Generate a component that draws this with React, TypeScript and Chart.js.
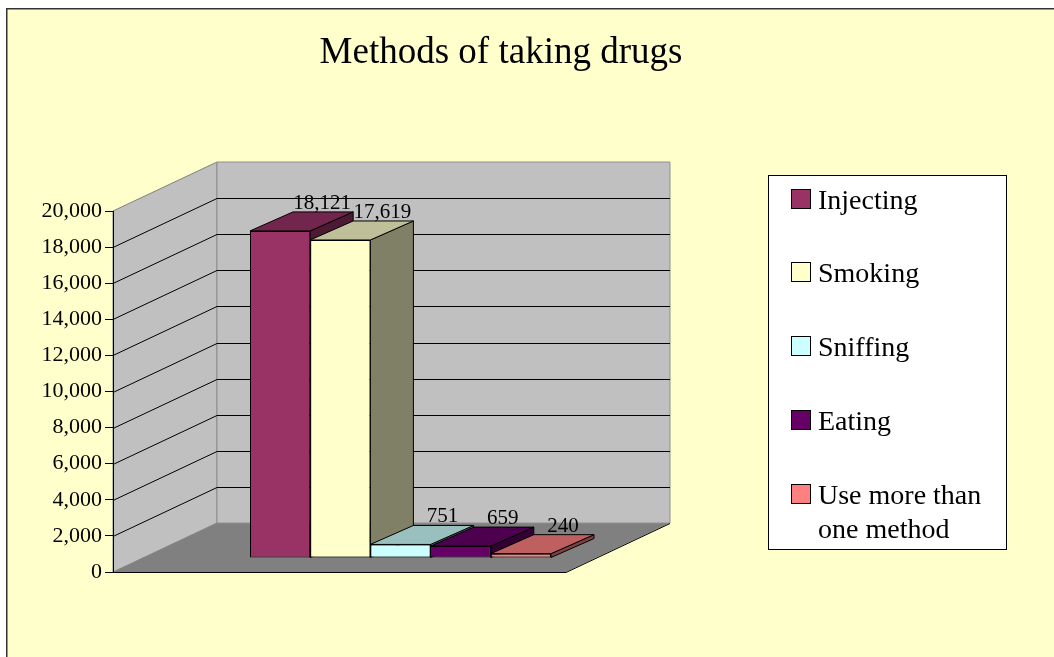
import { useEffect, useRef } from "react";
import { Chart, registerables } from "chart.js";

Chart.register(...registerables);

// Number of drug users by method of taking drugs
const methods = ["Injecting", "Smoking", "Sniffing", "Eating", "Use more than one method"];
const users = [18121, 17619, 751, 659, 240];
const methodColors = ["#993366", "#FFFFCC", "#CCFFFF", "#660066", "#FF8080"];
const axisMin = 0;
const axisMax = 20000;
const axisStep = 2000;
const titleText = "Methods of taking drugs";

const SERIF = "'Liberation Serif', 'Times New Roman', serif";

// Oblique 3-D box: depth offset of the back wall, floor width,
// offset of the bar row inside the box and the depth of each bar.
const WALL_DEPTH = { x: 104, y: -49 };
const FLOOR_WIDTH = 453;
const BAR_SHIFT = { x: 30, y: -14 };
const BAR_DEPTH = { x: 43, y: -19 };

const fmt = (v: number) => Number(v).toLocaleString("en-US");

function shade(hex: string, f: number): string {
  const n = parseInt(hex.slice(1), 16);
  const r = Math.round(((n >> 16) & 255) * f);
  const g = Math.round(((n >> 8) & 255) * f);
  const b = Math.round((n & 255) * f);
  return `rgb(${r},${g},${b})`;
}

function poly(
  ctx: CanvasRenderingContext2D,
  pts: number[][],
  fill: string | null,
  stroke: string | null
) {
  ctx.beginPath();
  ctx.moveTo(pts[0][0], pts[0][1]);
  for (let i = 1; i < pts.length; i++) ctx.lineTo(pts[i][0], pts[i][1]);
  ctx.closePath();
  if (fill) {
    ctx.fillStyle = fill;
    ctx.fill();
  }
  if (stroke) {
    ctx.strokeStyle = stroke;
    ctx.lineWidth = 1;
    ctx.stroke();
  }
}

function wrapWords(ctx: CanvasRenderingContext2D, text: string, maxWidth: number): string[] {
  const words = text.split(" ");
  const lines: string[] = [];
  let cur = "";
  for (const w of words) {
    const test = cur ? cur + " " + w : w;
    if (cur && ctx.measureText(test).width > maxWidth) {
      lines.push(cur);
      cur = w;
    } else {
      cur = test;
    }
  }
  if (cur) lines.push(cur);
  return lines;
}

const scenePlugin = {
  id: "scene3d",
  beforeDraw(chart: any) {
    const { ctx, chartArea, scales } = chart;
    const y = scales.y;
    ctx.save();
    // page and chart frame
    ctx.fillStyle = "#FFFFFF";
    ctx.fillRect(0, 0, chart.width, chart.height);
    ctx.fillStyle = "#FFFFCC";
    ctx.fillRect(7, 9, chart.width, chart.height);
    ctx.strokeStyle = "#333333";
    ctx.lineWidth = 1.5;
    ctx.strokeRect(6.75, 8.75, chart.width + 20, chart.height + 20);

    // title
    ctx.fillStyle = "#000000";
    ctx.font = `37px ${SERIF}`;
    ctx.textAlign = "center";
    ctx.textBaseline = "alphabetic";
    ctx.fillText(titleText, 501, 63);

    // walls and floor
    const L = chartArea.left;
    const B = y.getPixelForValue(axisMin);
    const T = y.getPixelForValue(axisMax);
    const R = L + FLOOR_WIDTH;
    const dx = WALL_DEPTH.x;
    const dy = WALL_DEPTH.y;
    poly(ctx, [[L, B], [R, B], [R + dx, B + dy], [L + dx, B + dy]], "#808080", null);
    poly(ctx, [[L, B], [L, T], [L + dx, T + dy], [L + dx, B + dy]], "#C0C0C0", "#808080");
    poly(ctx, [[L + dx, B + dy], [L + dx, T + dy], [R + dx, T + dy], [R + dx, B + dy]], "#C0C0C0", "#909090");

    // gridlines running across the side wall and the back wall
    ctx.strokeStyle = "#000000";
    ctx.lineWidth = 1;
    for (const t of y.ticks) {
      if (t.value <= axisMin || t.value >= axisMax) continue;
      const py = Math.round(y.getPixelForValue(t.value)) + 0.5;
      ctx.beginPath();
      ctx.moveTo(L, py);
      ctx.lineTo(L + dx, py + dy);
      ctx.lineTo(R + dx, py + dy);
      ctx.stroke();
    }
    // floor front and right edges
    ctx.beginPath();
    ctx.moveTo(L, Math.round(B) + 0.5);
    ctx.lineTo(R, Math.round(B) + 0.5);
    ctx.lineTo(R + dx, Math.round(B) + 0.5 + dy);
    ctx.stroke();
    ctx.restore();
  },
  beforeDatasetsDraw(chart: any) {
    const ctx = chart.ctx;
    ctx.save();
    ctx.lineJoin = "miter";
    // top and side faces, painted left to right
    chart.data.datasets.forEach((ds: any, i: number) => {
      const el = chart.getDatasetMeta(i).data[0];
      if (!el) return;
      const p = el.getProps(["x", "y", "base", "width"], true);
      const left = p.x - p.width / 2 + BAR_SHIFT.x;
      const right = p.x + p.width / 2 + BAR_SHIFT.x;
      const top = p.y + BAR_SHIFT.y;
      const bottom = p.base + BAR_SHIFT.y;
      const ddx = BAR_DEPTH.x;
      const ddy = BAR_DEPTH.y;
      poly(ctx, [[right, top], [right + ddx, top + ddy], [right + ddx, bottom + ddy], [right, bottom]], shade(ds.backgroundColor, 0.5), "#000000");
      poly(ctx, [[left, top], [right, top], [right + ddx, top + ddy], [left + ddx, top + ddy]], shade(ds.backgroundColor, 0.75), "#000000");
    });
    ctx.restore();
    // front faces are drawn by the bar controller in the bar row's plane
    ctx.save();
    ctx.translate(BAR_SHIFT.x, BAR_SHIFT.y);
  },
  afterDatasetsDraw(chart: any) {
    const ctx = chart.ctx;
    ctx.restore();
    ctx.save();
    ctx.fillStyle = "#000000";
    ctx.font = `21px ${SERIF}`;
    ctx.textAlign = "center";
    ctx.textBaseline = "alphabetic";
    chart.data.datasets.forEach((ds: any, i: number) => {
      const el = chart.getDatasetMeta(i).data[0];
      if (!el) return;
      const p = el.getProps(["x", "y"], true);
      ctx.fillText(fmt(ds.data[0]), p.x + BAR_SHIFT.x + 42, p.y + BAR_SHIFT.y - 22);
    });
    ctx.restore();
  },
  afterDraw(chart: any) {
    const ctx = chart.ctx;
    ctx.save();
    const box = { left: 768, top: 175, right: 1006, bottom: 549 };
    ctx.fillStyle = "#FFFFFF";
    ctx.fillRect(box.left, box.top, box.right - box.left, box.bottom - box.top);
    ctx.strokeStyle = "#000000";
    ctx.lineWidth = 1;
    ctx.strokeRect(box.left + 0.5, box.top + 0.5, box.right - box.left, box.bottom - box.top);
    ctx.font = `28px ${SERIF}`;
    ctx.textAlign = "left";
    ctx.textBaseline = "alphabetic";
    const swatchX = 791;
    const textX = 818;
    chart.data.datasets.forEach((ds: any, i: number) => {
      const baseLine = 208.5 + i * 73.75;
      const sy = Math.round(baseLine) - 20;
      ctx.fillStyle = ds.backgroundColor;
      ctx.fillRect(swatchX, sy, 20, 20);
      ctx.strokeStyle = "#000000";
      ctx.strokeRect(swatchX + 0.5, sy + 0.5, 19, 19);
      ctx.fillStyle = "#000000";
      const lines = wrapWords(ctx, ds.label, box.right - textX - 8);
      lines.forEach((ln, k) => ctx.fillText(ln, textX, baseLine + k * 34));
    });
    ctx.restore();
  },
};

export default function App() {
  const canvasRef = useRef<HTMLCanvasElement | null>(null);

  useEffect(() => {
    const canvas = canvasRef.current;
    if (!canvas) return;
    const chart = new Chart(canvas, {
      type: "bar",
      data: {
        labels: [""],
        datasets: methods.map((m, i) => ({
          label: m,
          data: [users[i]],
          backgroundColor: methodColors[i],
          borderColor: "#000000",
          borderWidth: 1,
          borderSkipped: false,
          barPercentage: 1,
          categoryPercentage: 0.5845,
          clip: false as any,
        })),
      },
      options: {
        responsive: false,
        animation: false,
        devicePixelRatio: 1,
        layout: { padding: { left: 0, top: 211, right: 426, bottom: 85 } },
        plugins: {
          legend: { display: false },
          tooltip: { enabled: false },
          title: { display: false },
        },
        scales: {
          x: { display: false },
          y: {
            min: axisMin,
            max: axisMax,
            ticks: {
              stepSize: axisStep,
              color: "#000000",
              padding: 3,
              font: { family: SERIF, size: 22 },
              callback: (v: any) => fmt(Number(v)),
            },
            grid: {
              drawOnChartArea: false,
              drawTicks: true,
              tickLength: 8,
              color: "#000000",
              lineWidth: 1,
            },
            border: { display: true, color: "#000000", width: 1 },
            afterFit: (s: any) => {
              s.width = 113;
            },
          },
        },
      },
      plugins: [scenePlugin],
    });
    return () => chart.destroy();
  }, []);

  return (
    <div style={{ position: "fixed", left: 0, top: 0, width: 1054, height: 657 }}>
      <canvas ref={canvasRef} width={1054} height={657} style={{ display: "block" }} />
    </div>
  );
}
